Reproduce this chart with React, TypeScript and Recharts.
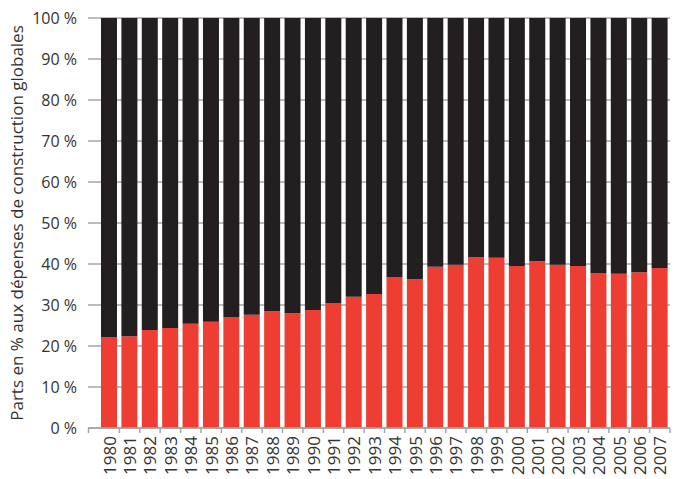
import React from 'react'
import { BarChart, Bar, XAxis, YAxis, CartesianGrid } from 'recharts'

const years = [
  '1980', '1981', '1982', '1983', '1984', '1985', '1986', '1987', '1988', '1989',
  '1990', '1991', '1992', '1993', '1994', '1995', '1996', '1997', '1998', '1999',
  '2000', '2001', '2002', '2003', '2004', '2005', '2006', '2007',
]

// part rouge (bas de la barre), en %
const redShare = [
  22.2, 22.4, 23.9, 24.4, 25.4, 25.9, 27.1, 27.6, 28.5, 28.0,
  28.8, 30.5, 32.0, 32.7, 36.8, 36.3, 39.3, 39.8, 41.7, 41.5,
  39.5, 40.7, 39.8, 39.5, 37.8, 37.6, 38.0, 39.0,
]

const yTicks = [0, 10, 20, 30, 40, 50, 60, 70, 80, 90, 100]

const data = years.map((year, i) => ({
  year,
  red: redShare[i],
  black: 100 - redShare[i],
}))

const W = 674
const H = 479
const M = { top: 18, right: 4, bottom: 0, left: 0 }
const Y_WIDTH = 88
const X_HEIGHT = 51
const PAD_LEFT = 11
const band = (W - M.right - M.left - Y_WIDTH - PAD_LEFT) / years.length
const FONT = '"Open Sans", sans-serif'

const YearTick = (props: any) => {
  const { x, y, payload, index } = props
  const axisY = y - 8
  return (
    <g>
      <line x1={x + band / 2} x2={x + band / 2} y1={axisY} y2={axisY + 5} stroke="#a6a6a6" strokeWidth={1.5} />
      {index === 0 && (
        <line
          x1={x - band / 2 - PAD_LEFT + 0.5}
          x2={x - band / 2 - PAD_LEFT + 0.5}
          y1={axisY}
          y2={axisY + 5}
          stroke="#a6a6a6"
          strokeWidth={1.5}
        />
      )}
      <text
        x={x}
        y={y}
        transform={`rotate(-90, ${x}, ${y})`}
        textAnchor="end"
        dominantBaseline="central"
        fill="#333"
        fontSize={17}
        fontFamily={FONT}
      >
        {payload.value}
      </text>
    </g>
  )
}

export default function App() {
  return (
    <div style={{ position: 'absolute', left: 0, top: 0, background: '#fff' }}>
      <BarChart width={W} height={H} data={data} margin={M} barCategoryGap={2}>
        <CartesianGrid vertical={false} stroke="#a6a6a6" strokeWidth={1.5} />
        <XAxis
          dataKey="year"
          height={X_HEIGHT}
          padding={{ left: PAD_LEFT, right: 0 }}
          interval={0}
          tickLine={false}
          axisLine={{ stroke: '#a6a6a6', strokeWidth: 1.5 }}
          tick={<YearTick />}
        />
        <YAxis
          width={Y_WIDTH}
          domain={[0, 100]}
          ticks={yTicks}
          interval={0}
          axisLine={false}
          tickLine={false}
          tickMargin={5}
          tickFormatter={(v) => `${v} %`}
          tick={{ fill: '#333', fontSize: 16, fontFamily: FONT }}
          label={{
            value: 'Parts en % aux dépenses de construction globales',
            angle: -90,
            position: 'insideLeft',
            offset: 17,
            style: { textAnchor: 'middle', fill: '#333', fontSize: 17, fontFamily: FONT },
          }}
        />
        <Bar dataKey="red" stackId="a" fill="#ee3d33" isAnimationActive={false} />
        <Bar dataKey="black" stackId="a" fill="#231f20" isAnimationActive={false} />
      </BarChart>
    </div>
  )
}
